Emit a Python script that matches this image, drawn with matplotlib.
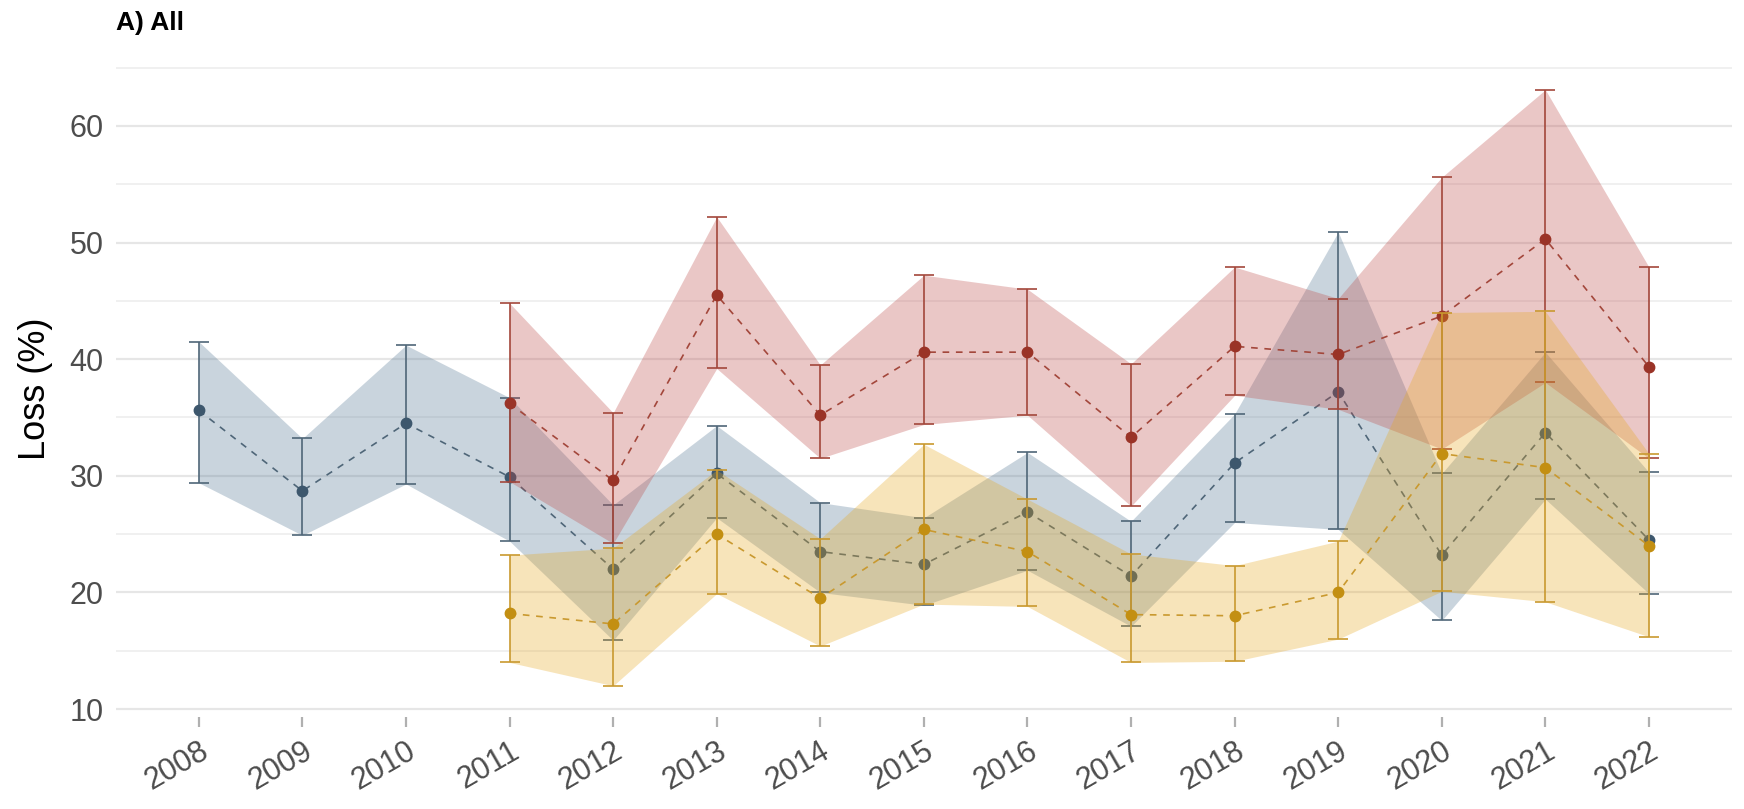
import matplotlib.pyplot as plt
import numpy as np

plt.rcParams["font.family"] = ["Liberation Sans", "DejaVu Sans"]

# years on the x axis
years_blue = np.arange(2008, 2023)
years_other = np.arange(2011, 2023)

# blue series (2008-2022)
blue_mean = [35.6, 28.7, 34.5, 29.9, 22.0, 30.2, 23.5, 22.4, 26.9, 21.4, 31.1, 37.2, 23.2, 33.7, 24.5]
blue_lo = [29.4, 24.9, 29.3, 24.4, 15.9, 26.4, 20.0, 18.9, 21.9, 17.1, 26.0, 25.4, 17.6, 28.0, 19.9]
blue_hi = [41.5, 33.2, 41.2, 36.7, 27.5, 34.3, 27.7, 26.4, 32.0, 26.1, 35.3, 50.9, 30.2, 40.6, 30.3]

# red series (2011-2022)
red_mean = [36.2, 29.6, 45.5, 35.2, 40.6, 40.6, 33.3, 41.1, 40.4, 43.7, 50.3, 39.35]
red_lo = [29.5, 24.2, 39.2, 31.5, 34.4, 35.2, 27.4, 36.9, 35.7, 32.3, 38.0, 31.5]
red_hi = [44.8, 35.4, 52.2, 39.5, 47.2, 46.0, 39.6, 47.9, 45.2, 55.6, 63.1, 47.9]

# yellow series (2011-2022)
yellow_mean = [18.2, 17.3, 25.0, 19.5, 25.4, 23.5, 18.1, 18.0, 20.0, 31.9, 30.7, 24.0]
yellow_lo = [14.0, 12.0, 19.9, 15.4, 19.0, 18.8, 14.0, 14.1, 16.0, 20.1, 19.2, 16.2]
yellow_hi = [23.2, 23.8, 30.5, 24.6, 32.7, 28.0, 23.3, 22.3, 24.4, 44.0, 44.1, 31.9]

series = [
    # x, mean, lo, hi, fill, line/error colour, point colour
    (years_blue, blue_mean, blue_lo, blue_hi, "#4e7391", "#4f6678", "#3d576d"),
    (years_other, red_mean, red_lo, red_hi, "#bc4644", "#a3473b", "#9a3327"),
    (years_other, yellow_mean, yellow_lo, yellow_hi, "#e6a61c", "#c9992f", "#c38f12"),
]

fig = plt.figure(figsize=(17.44, 8.09), dpi=100)
ax = fig.add_axes([0.0665, 0.114, 0.9265, 0.812])

for k, (x, m, lo, hi, fill_c, err_c, pt_c) in enumerate(series):
    z = 2 + 4 * k
    m = np.array(m)
    lo = np.array(lo)
    hi = np.array(hi)
    ax.fill_between(x, lo, hi, color=fill_c, alpha=0.3, linewidth=0, zorder=z)
    ax.plot(x, m, linestyle=(0, (4, 4)), color=err_c, linewidth=1.2, zorder=z + 1)
    ax.errorbar(
        x, m, yerr=[m - lo, hi - m], fmt="none", ecolor=err_c,
        elinewidth=1.2, capsize=7, capthick=1.2, zorder=z + 2,
    )
    ax.plot(x, m, "o", color=pt_c, markersize=7.5, zorder=z + 3)

ax.set_xlim(2007.2, 2022.8)
ax.set_ylim(9.34, 65.66)
ax.set_xticks(years_blue)
ax.set_xticklabels([str(y) for y in years_blue], rotation=30, ha="right",
                   rotation_mode="anchor", fontsize=22, color="#4d4d4d")
ax.set_yticks([10, 20, 30, 40, 50, 60])
ax.set_yticks([15, 25, 35, 45, 55, 65], minor=True)
ax.tick_params(axis="y", which="both", length=0, pad=9, labelsize=22, labelcolor="#4d4d4d")
ax.tick_params(axis="x", length=7, width=1.6, color="#b0b0b0", pad=7)
ax.grid(True, axis="y", which="major", color="#e6e6e6", linewidth=1.6, zorder=0)
ax.grid(True, axis="y", which="minor", color="#ececec", linewidth=1.1, zorder=0)
ax.set_axisbelow(True)
for s in ax.spines.values():
    s.set_visible(False)

ax.set_ylabel("Loss (%)", fontsize=26, color="black", labelpad=12)
fig.text(0.0665, 0.972, "A) All", fontsize=19, fontweight="bold", va="center", ha="left")

fig.savefig("out.png", dpi=100)
